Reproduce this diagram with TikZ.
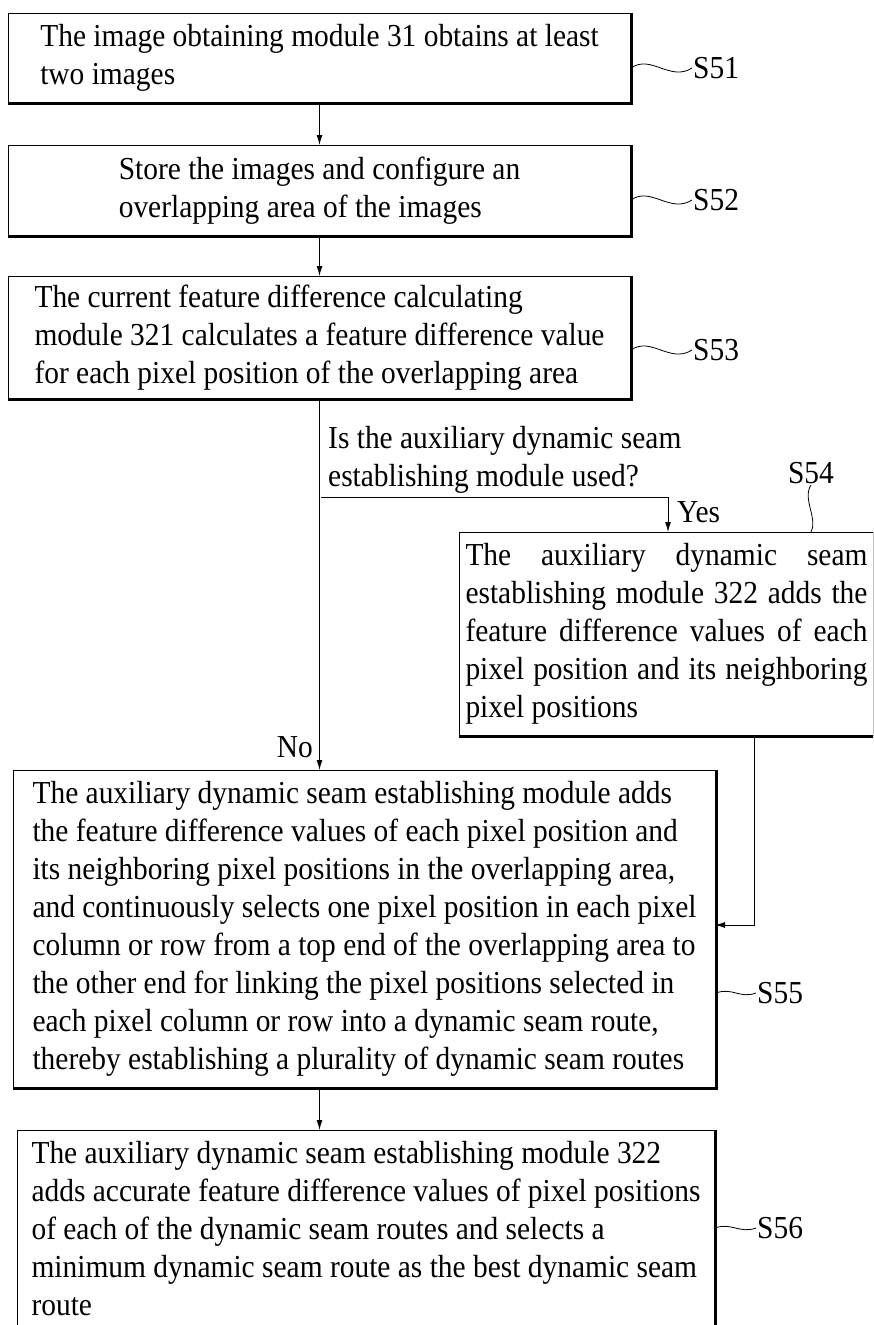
\documentclass[tikz,border=0pt]{standalone}
\usepackage{fontspec}
\setmainfont{Liberation Serif}[FakeStretch=0.92]
\usetikzlibrary{arrows.meta}

\begin{document}
\begin{tikzpicture}[x=1pt,y=-1pt,>={Latex[length=10pt,width=6pt]},
    every node/.style={font=\fontsize{32}{38}\selectfont},
    stepbox/.style={draw,line width=1pt,align=left,inner sep=0pt,anchor=north west},
    ombre/.style={line width=3pt},
    fleche/.style={->,line width=1pt},
    vague/.style={line width=0.8pt},
    etiq/.style={inner sep=1pt}]

    \useasboundingbox (0,0) rectangle (873,1325);
    \clip (0,0) rectangle (873,1325);

    % Les etapes
    \node[stepbox,minimum width=622pt,minimum height=89pt] (b1) at (8,13)
        {The image obtaining module 31 obtains at least\\two images};
    \node[stepbox,minimum width=622pt,minimum height=90pt] (b2) at (8,145)
        {Store the images and configure an\\overlapping area of the images};
    \node[stepbox,minimum width=622pt,minimum height=122pt] (b3) at (8,276)
        {The current feature difference calculating\\module 321 calculates a feature difference value\\for each pixel position of the overlapping area};
    \node[stepbox,align=justify,text width=402pt,inner xsep=6pt,minimum height=203pt] (b4) at (459,532)
        {The auxiliary dynamic seam\linebreak establishing module 322 adds the\linebreak feature difference values of each\linebreak pixel position and its neighboring\linebreak pixel positions};
    \node[stepbox,minimum width=702pt,minimum height=317pt] (b5) at (13,770)
        {The auxiliary dynamic seam establishing module adds\\the feature difference values of each pixel position and\\its neighboring pixel positions in the overlapping area,\\and continuously selects one pixel position in each pixel\\column or row from a top end of the overlapping area to\\the other end for linking the pixel positions selected in\\each pixel column or row into a dynamic seam route,\\thereby establishing a plurality of dynamic seam routes};
    \node[stepbox,minimum width=697pt,inner ysep=11pt] (b6) at (17,1130)
        {The auxiliary dynamic seam establishing module 322\\adds accurate feature difference values of pixel positions\\of each of the dynamic seam routes and selects a\\minimum dynamic seam route as the best dynamic seam\\route};

    % Bords epais a droite et en bas
    \foreach \n in {b1,b2,b3,b4,b5,b6}
        \draw[ombre] (\n.north east) -- (\n.south east) -- (\n.south west);

    % Textes et reperes
    \node[etiq,anchor=west,align=left] (q) at (327,460)
        {Is the auxiliary dynamic seam\\establishing module used?};
    \node[etiq,anchor=west] (oui) at (676,512) {Yes};
    \node[etiq,anchor=east] (non) at (314,747) {No};
    \node[etiq,anchor=west] (s51) at (692,68) {S51};
    \node[etiq,anchor=west] (s52) at (692,200) {S52};
    \node[etiq,anchor=west] (s53) at (692,350) {S53};
    \node[etiq] (s54) at (811,473) {S54};
    \node[etiq,anchor=west] (s55) at (756,993) {S55};
    \node[etiq,anchor=west] (s56) at (756,1228) {S56};

    % Points de passage des fleches
    \coordinate (fork) at (321,497);
    \coordinate (fyes) at (668,497);
    \coordinate (sortie) at (754,735);
    \coordinate (entree) at (715,925);

    % Fleches
    \draw[fleche] (b1.south) -- (b2.north);
    \draw[fleche] (b2.south) -- (b3.north);
    \draw[fleche] (b3.south) -- (b3.south |- b5.north);
    \draw[fleche] (fork) -- (fyes) -- (fyes |- b4.north);
    \draw[fleche] (sortie) |- (entree);
    \draw[fleche] (b5.south -| b3.south) -- (b6.north -| b3.south);

    % Petites vagues vers les reperes
    \draw[vague] (b1.east |- s51.west) .. controls +(20,-14) and +(-22,14) .. (s51.west);
    \draw[vague] (b2.east |- s52.west) .. controls +(20,-14) and +(-22,14) .. (s52.west);
    \draw[vague] (b3.east |- s53.west) .. controls +(20,-14) and +(-22,14) .. (s53.west);
    \draw[vague] (b5.east |- s55.west) .. controls +(16,-6) and +(-16,6) .. (s55.west);
    \draw[vague] (b6.east |- s56.west) .. controls +(16,-6) and +(-16,6) .. (s56.west);
    \draw[vague] (s54.south) .. controls +(-9,14) and +(7,-14) .. (s54.south |- b4.north);
\end{tikzpicture}
\end{document}
